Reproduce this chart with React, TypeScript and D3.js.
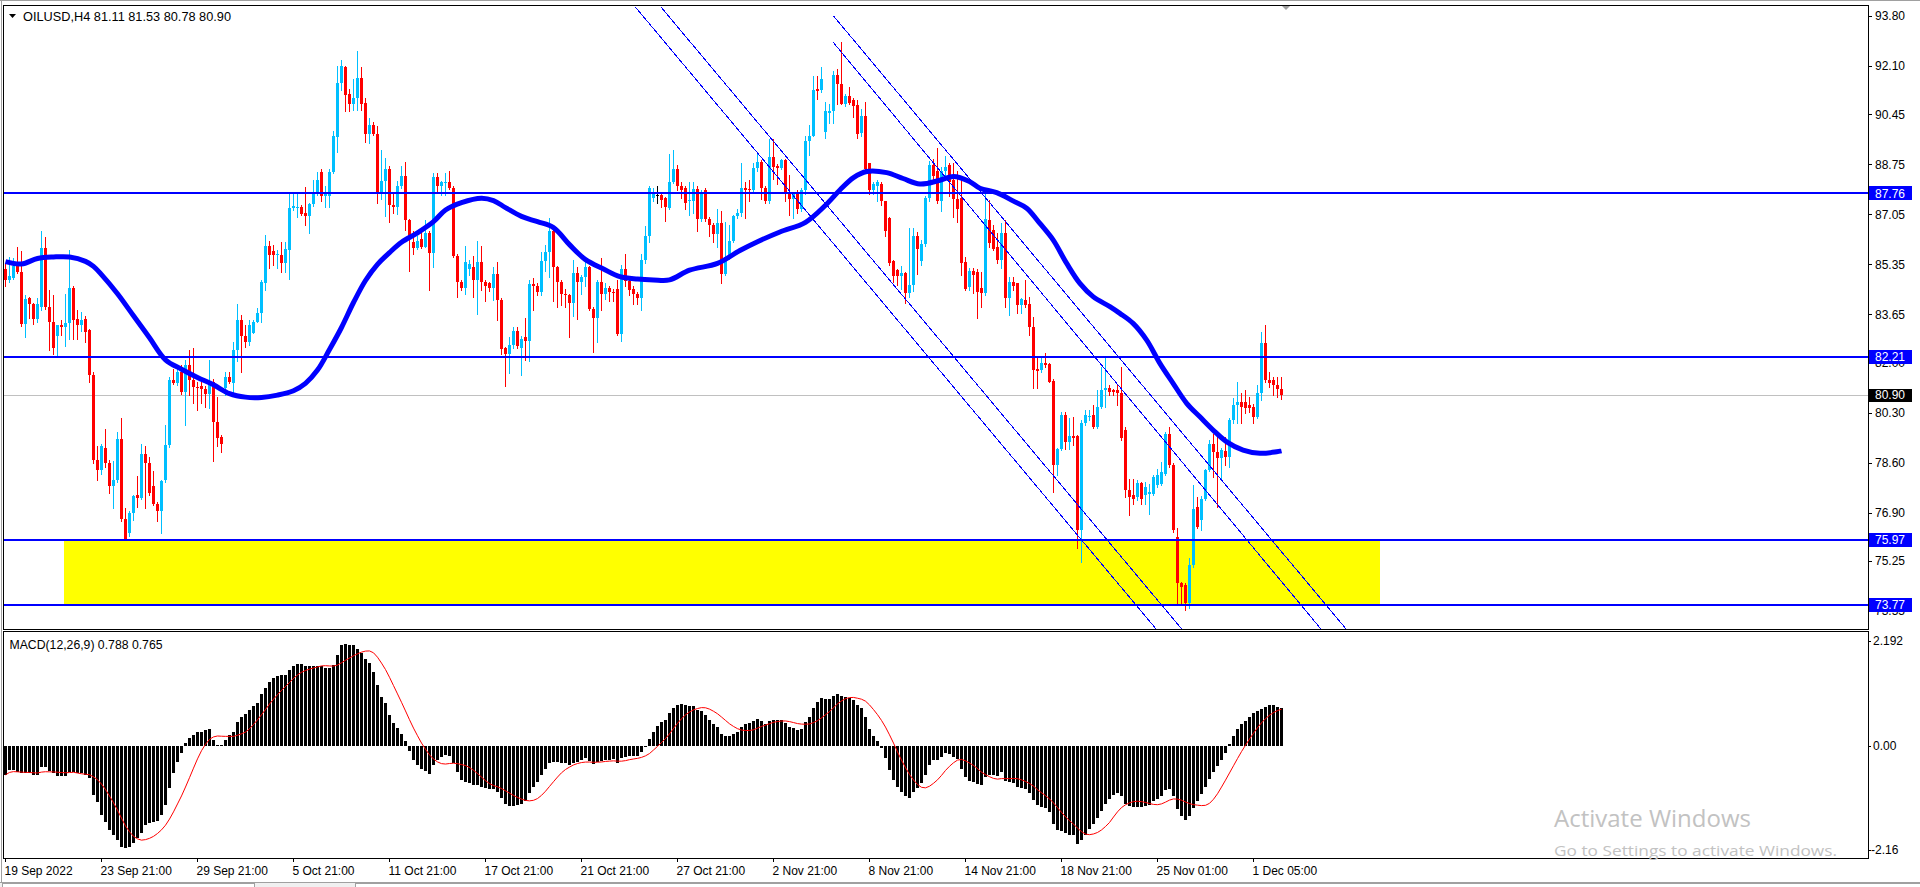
import React from 'react';
import * as d3 from 'd3';

// ---------- DATA ----------
const OPEN = [
  85.20,84.80,84.90,85.40,85.10,83.33,84.20,84.00,83.48,83.90,
  85.90,83.90,83.40,82.90,83.30,83.20,83.35,84.55,83.50,83.30,
  83.50,83.10,81.60,78.70,78.35,79.10,78.60,77.80,78.00,79.40,
  76.67,76.20,76.90,77.50,77.40,78.90,78.58,77.80,77.20,76.95,
  78.00,79.20,81.40,81.30,81.70,81.00,81.92,81.40,81.18,81.20,
  81.10,80.95,81.35,80.00,79.48,81.13,81.53,81.30,82.45,83.45,
  82.90,82.70,83.00,83.40,83.70,84.70,85.97,85.80,85.67,85.67,
  85.40,85.84,87.25,87.27,87.30,87.10,87.00,87.40,87.80,88.50,
  87.69,87.69,88.48,89.67,91.53,92.05,91.15,90.80,91.00,91.69,
  90.85,89.80,90.10,89.78,87.75,88.20,88.60,87.37,87.30,88.00,
  88.35,86.85,86.10,85.90,86.20,85.95,86.40,85.74,88.33,88.00,
  88.10,88.14,87.95,85.64,84.74,84.55,85.20,85.25,84.80,85.44,
  84.74,84.70,84.55,85.02,84.13,82.50,82.30,82.62,83.07,82.50,
  82.87,82.75,84.67,84.61,84.42,85.47,85.77,86.47,85.25,84.74,
  84.35,84.29,84.03,85.06,84.74,84.93,85.25,83.84,83.52,84.74,
  84.35,84.55,84.42,84.50,82.98,85.19,84.77,84.50,84.35,84.20,
  85.51,86.32,87.62,87.71,87.71,87.60,87.27,88.14,88.60,88.00,
  87.95,87.49,87.49,87.90,86.90,87.88,86.90,86.70,86.38,86.74,
  85.02,85.60,86.15,86.99,87.08,87.95,87.90,87.88,88.64,88.83,
  87.95,87.49,88.99,88.70,88.64,88.90,87.82,87.56,87.82,87.23,
  87.88,89.55,89.73,91.30,91.27,89.84,90.50,90.55,91.79,91.47,
  90.81,91.08,90.94,90.78,89.81,90.38,88.80,87.88,88.01,88.08,
  87.49,86.91,85.47,85.17,84.95,85.04,84.37,84.63,86.32,85.47,
  86.03,87.62,88.73,88.53,87.49,88.53,88.73,88.21,87.56,87.60,
  85.44,84.59,85.13,85.10,84.56,84.36,86.86,86.52,85.95,85.48,
  86.40,84.19,84.76,84.70,83.96,84.15,83.99,83.23,81.80,81.75,
  82.00,81.96,81.39,78.52,79.08,80.22,79.31,79.50,79.50,76.30,
  79.94,80.16,80.22,79.82,80.50,81.07,81.13,81.07,81.07,80.96,
  79.71,77.67,77.50,77.44,77.90,77.50,77.55,77.55,77.84,77.89,
  78.23,79.59,78.52,76.08,74.49,74.44,73.81,75.11,77.10,76.65,
  77.38,78.35,79.25,78.97,78.75,79.00,78.78,80.05,80.56,80.68,
  80.67,80.56,80.50,80.16,80.96,82.66,81.41,81.41,81.24,81.11,
];
const HIGH = [
  85.35,85.60,85.55,85.95,85.80,84.30,84.25,84.05,84.20,86.47,
  86.28,84.48,84.30,83.30,83.46,84.35,85.83,84.60,83.78,83.74,
  83.60,83.15,81.70,79.16,79.25,79.74,78.70,78.65,79.64,80.13,
  77.05,76.95,77.50,78.14,79.23,79.17,78.80,78.33,77.25,78.00,
  79.87,81.53,81.79,81.92,81.92,82.11,82.43,82.50,81.34,81.34,
  81.22,82.08,81.45,80.83,79.55,81.70,81.70,82.70,84.00,83.63,
  83.28,83.45,83.45,83.88,84.82,86.35,86.15,86.01,85.84,86.12,
  86.12,87.77,87.77,87.77,87.37,87.99,87.45,88.22,88.50,88.60,
  88.00,88.60,89.89,92.10,92.30,92.10,91.30,91.66,92.62,92.05,
  91.00,90.34,90.20,90.05,89.25,88.97,88.70,87.80,88.20,88.69,
  88.84,86.90,86.47,86.30,86.40,86.85,86.50,88.46,88.46,88.20,
  88.46,88.52,88.00,85.70,84.80,85.96,85.50,85.64,86.15,85.96,
  84.80,84.75,85.25,85.44,84.20,82.55,82.88,83.20,83.20,82.90,
  83.52,84.80,84.87,84.70,85.77,86.02,86.92,86.66,85.30,84.80,
  84.50,84.35,85.50,85.25,85.00,85.50,85.30,83.90,84.80,85.57,
  84.70,84.60,84.50,84.80,85.32,85.70,84.90,84.60,84.40,85.70,
  86.66,88.01,87.95,88.01,87.75,87.65,89.12,89.25,88.73,88.14,
  88.00,88.14,88.14,88.00,87.88,87.95,86.97,86.75,87.23,87.17,
  86.78,86.70,87.04,87.23,88.80,88.14,88.21,88.80,89.12,88.90,
  88.00,89.60,89.60,88.75,88.93,88.95,88.40,87.82,87.88,87.95,
  89.71,90.10,91.77,91.77,92.05,90.88,90.80,91.92,92.00,92.90,
  91.15,91.40,91.00,90.94,90.62,90.88,88.80,88.14,88.21,88.14,
  87.50,86.95,85.50,85.20,85.28,85.10,86.58,86.58,86.45,86.19,
  87.69,88.86,88.93,89.32,88.66,89.05,88.80,88.80,88.53,88.33,
  85.60,85.21,85.21,85.20,85.10,87.77,87.54,86.68,86.40,86.77,
  86.86,84.93,84.93,84.72,84.20,84.82,84.25,83.56,82.21,82.21,
  82.34,82.00,81.45,79.10,80.33,80.33,80.11,80.16,79.55,80.05,
  80.39,80.39,80.56,81.07,81.87,82.21,81.24,81.10,81.24,81.87,
  79.80,78.06,78.06,78.00,77.95,77.95,77.89,78.18,78.40,78.63,
  79.65,79.82,78.60,76.36,74.55,74.49,75.34,77.84,77.44,77.45,
  78.40,79.37,79.59,79.48,79.10,79.48,80.11,80.79,81.36,80.96,
  81.07,80.84,80.60,81.24,83.06,83.28,81.70,81.53,81.53,81.53,
];
const LOW = [
  84.60,84.75,84.85,85.05,83.25,82.88,83.52,83.33,83.40,83.80,
  83.84,82.43,82.30,82.18,82.95,82.56,82.82,82.82,82.82,83.07,
  82.69,81.34,78.59,78.01,78.20,78.46,77.56,77.05,77.95,76.60,
  75.98,76.10,76.66,77.10,77.35,77.05,77.50,77.15,76.60,76.20,
  77.95,79.15,81.27,81.25,80.95,79.87,80.89,80.64,80.38,80.64,
  80.51,80.45,78.65,79.16,78.95,80.90,81.30,80.90,82.05,81.70,
  82.55,82.60,83.00,83.40,83.40,84.48,85.21,85.33,85.21,85.10,
  85.10,84.85,87.20,86.97,87.03,86.69,86.40,87.35,87.70,87.50,
  87.30,87.30,88.46,89.16,91.28,90.57,90.57,90.60,90.60,90.60,
  89.52,89.48,89.74,87.43,87.56,86.98,86.79,87.10,87.05,87.95,
  86.53,85.12,85.70,85.88,85.90,85.93,84.48,85.25,87.80,87.70,
  87.70,87.90,85.60,84.23,84.48,84.35,85.00,84.23,83.65,84.48,
  84.10,84.45,84.13,83.46,82.30,81.20,81.66,82.50,82.50,81.60,
  82.10,82.05,83.78,84.30,84.30,85.12,84.93,84.10,83.90,83.97,
  83.90,82.88,83.60,83.50,84.35,84.60,83.78,82.37,82.69,83.78,
  84.16,84.10,84.10,82.94,82.75,84.60,84.30,84.00,84.00,83.78,
  85.40,86.10,87.49,87.43,87.30,86.84,87.23,88.10,87.88,87.62,
  87.23,87.04,87.10,86.50,86.84,86.84,86.32,86.12,85.93,84.73,
  85.00,85.53,86.10,86.91,87.00,86.91,87.49,87.79,88.53,87.56,
  87.43,87.45,88.27,88.08,88.60,87.49,87.04,86.91,87.10,87.17,
  87.75,89.06,89.70,90.98,91.20,89.64,90.16,90.16,90.80,90.80,
  90.75,90.81,90.36,89.64,89.71,88.53,87.75,87.75,87.49,87.36,
  86.32,85.34,84.76,84.63,84.50,84.04,84.24,84.43,85.02,85.34,
  85.99,87.49,88.21,87.43,87.17,88.27,87.69,86.97,86.78,85.00,
  84.47,84.47,84.36,83.51,83.91,84.30,85.95,85.84,85.38,85.21,
  83.91,83.62,84.47,83.68,83.68,83.91,82.94,81.13,81.13,81.70,
  81.87,81.33,77.61,78.18,79.03,79.08,79.08,79.20,75.68,75.23,
  79.88,80.05,79.77,79.77,80.45,80.50,80.90,80.90,80.56,79.37,
  77.44,76.82,77.21,77.33,77.21,77.21,76.87,77.50,77.78,77.85,
  78.18,78.45,76.25,73.81,73.81,73.58,73.64,75.05,76.36,76.30,
  77.33,78.30,78.12,77.10,78.06,78.52,78.46,79.94,79.94,79.94,
  80.28,80.33,79.94,80.11,80.73,81.36,81.18,80.90,80.84,80.78,
];
const CLOSE = [
  84.80,84.95,85.30,85.10,83.33,84.16,84.00,83.48,84.00,85.90,
  83.90,83.40,82.50,83.30,83.20,83.35,84.55,83.45,83.30,83.45,
  83.05,81.60,78.70,78.35,79.16,78.60,77.80,78.00,79.40,76.67,
  76.00,76.90,77.46,77.40,78.90,78.58,77.56,77.20,76.95,77.97,
  79.20,81.40,81.30,81.70,81.00,81.92,81.40,81.18,81.15,81.10,
  80.95,81.35,80.00,79.45,79.25,81.53,81.35,82.43,83.45,82.90,
  82.70,83.28,83.40,83.70,84.76,85.97,85.67,85.67,85.70,85.40,
  85.86,87.25,87.35,87.30,87.06,87.00,87.40,87.80,88.23,87.69,
  87.75,88.48,89.71,91.53,92.10,91.12,90.80,91.00,91.69,90.80,
  89.80,90.10,89.78,87.75,88.20,88.60,87.37,87.30,88.00,88.35,
  86.85,86.20,85.90,86.15,85.95,86.40,85.74,88.33,88.00,88.14,
  88.14,87.95,85.64,84.74,84.55,85.44,85.35,84.80,85.44,84.74,
  84.60,84.55,85.02,84.13,82.46,82.30,82.62,83.07,82.56,82.80,
  82.75,84.67,84.61,84.42,85.47,85.77,86.47,85.25,84.74,84.35,
  84.29,84.03,85.06,84.74,84.93,85.25,83.84,83.52,84.74,84.35,
  84.55,84.42,84.36,82.98,85.19,84.77,84.48,84.35,84.20,85.51,
  86.32,87.95,87.75,87.71,87.53,87.30,88.14,88.60,88.00,87.88,
  87.43,87.55,87.90,86.90,87.75,86.90,86.70,86.38,86.74,85.02,
  85.60,86.15,86.99,87.08,87.95,87.88,87.88,88.64,88.83,87.95,
  87.49,88.99,88.67,88.64,88.90,87.82,87.56,87.78,87.23,87.88,
  89.55,89.73,91.27,91.25,91.66,90.55,90.55,91.79,91.47,90.81,
  91.08,90.85,90.75,89.77,90.38,88.60,87.88,88.08,88.14,87.49,
  86.48,85.41,84.95,84.95,85.04,84.37,84.63,86.32,85.86,86.03,
  87.62,88.73,88.34,87.49,88.53,88.66,88.14,87.56,87.23,85.38,
  84.50,85.13,84.99,84.42,84.38,86.88,86.09,85.86,85.48,86.40,
  84.19,84.76,84.61,83.96,84.16,83.96,83.23,81.77,81.73,82.00,
  81.92,81.36,78.52,79.08,80.22,79.31,79.50,79.45,76.30,79.94,
  80.22,80.20,79.82,80.50,81.07,81.13,81.00,81.00,80.96,79.43,
  77.67,77.44,77.38,77.90,77.38,77.78,77.61,78.12,78.18,78.29,
  79.59,78.52,76.30,74.49,74.38,73.81,75.11,77.04,76.42,77.38,
  78.35,79.25,78.97,78.75,79.03,78.78,80.05,80.56,80.68,80.50,
  80.45,80.45,80.16,80.96,82.66,81.41,81.30,81.24,81.09,80.90,
];

// MACD main line (histogram), one value per bar
const MACD = [
  -0.60,-0.50,-0.50,-0.55,-0.57,-0.57,-0.57,-0.60,-0.60,-0.43,
  -0.43,-0.52,-0.57,-0.62,-0.63,-0.62,-0.55,-0.55,-0.57,-0.57,
  -0.60,-0.67,-1.02,-1.16,-1.44,-1.58,-1.75,-1.85,-1.96,-2.10,
  -2.12,-2.10,-2.03,-1.92,-1.82,-1.65,-1.61,-1.59,-1.56,-1.44,
  -1.23,-0.88,-0.57,-0.33,-0.15,0.06,0.16,0.23,0.30,0.30,
  0.33,0.35,0.13,0.02,0.02,0.13,0.23,0.30,0.51,0.61,
  0.66,0.75,0.83,0.89,1.08,1.20,1.34,1.41,1.46,1.47,
  1.48,1.58,1.67,1.71,1.71,1.67,1.67,1.67,1.67,1.67,
  1.62,1.62,1.69,1.90,2.10,2.13,2.10,2.10,2.03,1.93,
  1.82,1.72,1.55,1.27,1.03,0.89,0.65,0.47,0.37,0.25,
  0.10,-0.10,-0.30,-0.40,-0.48,-0.52,-0.58,-0.40,-0.30,-0.22,
  -0.18,-0.20,-0.35,-0.55,-0.70,-0.75,-0.78,-0.82,-0.82,-0.85,
  -0.88,-0.90,-0.90,-0.95,-1.08,-1.20,-1.25,-1.25,-1.22,-1.20,
  -1.15,-0.98,-0.85,-0.75,-0.60,-0.48,-0.35,-0.33,-0.33,-0.35,
  -0.36,-0.40,-0.35,-0.33,-0.30,-0.26,-0.32,-0.38,-0.33,-0.32,
  -0.30,-0.29,-0.28,-0.36,-0.26,-0.22,-0.20,-0.20,-0.20,-0.12,
  0.00,0.15,0.30,0.42,0.50,0.55,0.68,0.80,0.85,0.87,
  0.86,0.84,0.83,0.75,0.72,0.65,0.55,0.45,0.40,0.25,
  0.20,0.20,0.25,0.30,0.40,0.45,0.47,0.52,0.56,0.52,
  0.45,0.52,0.55,0.55,0.55,0.48,0.40,0.38,0.33,0.35,
  0.50,0.60,0.80,0.92,1.00,0.98,0.97,1.05,1.08,1.05,
  1.03,1.00,0.95,0.85,0.80,0.60,0.35,0.20,0.10,-0.05,
  -0.25,-0.50,-0.70,-0.85,-0.95,-1.05,-1.08,-0.95,-0.88,-0.78,
  -0.60,-0.40,-0.30,-0.30,-0.22,-0.15,-0.17,-0.22,-0.28,-0.48,
  -0.65,-0.72,-0.75,-0.80,-0.82,-0.65,-0.60,-0.60,-0.62,-0.55,
  -0.72,-0.75,-0.78,-0.85,-0.87,-0.90,-0.98,-1.12,-1.22,-1.28,
  -1.30,-1.38,-1.62,-1.75,-1.78,-1.82,-1.85,-1.85,-2.05,-1.95,
  -1.85,-1.72,-1.62,-1.50,-1.35,-1.20,-1.10,-1.02,-0.98,-1.05,
  -1.20,-1.25,-1.28,-1.27,-1.28,-1.25,-1.22,-1.15,-1.10,-1.05,
  -0.92,-0.90,-1.05,-1.32,-1.45,-1.55,-1.45,-1.30,-1.15,-1.00,
  -0.85,-0.68,-0.55,-0.42,-0.30,-0.15,0.05,0.20,0.35,0.45,
  0.52,0.60,0.68,0.72,0.78,0.82,0.85,0.85,0.82,0.788,
];
const SIGNAL_PERIOD = 9;

// Moving average (bar index, value)
const MA_BARS = [0,4,8,12,16,20,22,24,28,32,36,40,44,48,52,56,60,64,68,72,75,78,81,84,87,90,93,96,99,103,107,110,114,119,122,125,129,133,137,141,145,149.5,153.6,158,162,166,171,178,183.6,188,193.6,200,205,208.6,212,215.3,220.3,224.4,228.6,233.6,237,241,243.6,247.8,252,255.3,258.6,261.9,265.3,268.6,271.9,276.1,278.6,281.9,285.3,288.6,291.9,295.3,298.6,301.9,305.3,309.4,313.6,317.8,319];
const MA_VALUES = [85.44,85.36,85.55,85.6,85.6,85.45,85.28,85.0,84.35,83.6,82.85,82.1,81.78,81.5,81.25,80.95,80.83,80.82,80.9,81.05,81.3,81.75,82.45,83.2,84.05,84.8,85.35,85.75,86.1,86.42,86.8,87.2,87.45,87.6,87.52,87.28,86.98,86.8,86.6,86.02,85.51,85.19,84.93,84.85,84.82,84.82,85.15,85.38,85.82,86.12,86.45,86.78,87.36,87.88,88.3,88.51,88.47,88.27,88.08,88.21,88.34,88.17,87.94,87.79,87.5,87.26,86.74,86.18,85.38,84.70,84.25,83.91,83.68,83.34,82.77,81.98,81.30,80.62,80.16,79.71,79.31,79.03,78.92,78.97,79.0];

const PRICE_TICKS = [93.80, 92.10, 90.45, 88.75, 87.05, 85.35, 83.65, 82.00, 80.30, 78.60, 76.90, 75.25, 73.55];
const MACD_TICKS = [2.192, 0, -2.16];
const MACD_TICK_LABELS = ['2.192', '0.00', '-2.16'];
const TIME_BARS = [0, 24, 48, 72, 96, 120, 144, 168, 192, 216, 240, 264, 288, 312];
const TIME_LABELS = ['19 Sep 2022', '23 Sep 21:00', '29 Sep 21:00', '5 Oct 21:00', '11 Oct 21:00', '17 Oct 21:00', '21 Oct 21:00', '27 Oct 21:00', '2 Nov 21:00', '8 Nov 21:00', '14 Nov 21:00', '18 Nov 21:00', '25 Nov 01:00', '1 Dec 05:00'];

const LEVELS = [87.76, 82.21, 75.97, 73.77];
const ZONE_PRICES = [75.97, 73.77];
const ZONE_BARS = [14.6, 343.6];
const BID = 80.90;
// trend / channel lines: [bar1, price1, bar2, price2]
const TRENDLINES = [
  [157.5, 94.10, 287.9, 72.90],
  [163.9, 94.10, 294.3, 72.90],
  [206.95, 93.81, 335.4, 72.90],
  [206.95, 92.90, 329.1, 72.90],
];
const HEADER = 'OILUSD,H4  81.11 81.53 80.78 80.90';
const MACD_HEADER = 'MACD(12,26,9) 0.788 0.765';

// ---------- LAYOUT ----------
const FONT = "'Liberation Sans', Arial, sans-serif";
const PL = 4, PR = 1868;
const PT = 6, PB = 629;
const MT = 632, MB = 858;

export default function App() {
  const x = d3.scaleLinear().domain([0, 1]).range([5.5, 9.5]);
  const y = d3.scaleLinear().domain([72.94, 94.14]).range([PB, PT]);
  const my = d3.scaleLinear().domain([-2.16, 2.192]).range([849.7, 640.8]);

  const signal = MACD.map((_, i) => {
    const s = Math.max(0, i - SIGNAL_PERIOD + 1);
    return d3.mean(MACD.slice(s, i + 1)) as number;
  });

  const maPts = MA_BARS.map((b, i) => [b, MA_VALUES[i]] as [number, number]);
  const maPath = d3.line<[number, number]>().x(d => x(d[0])).y(d => y(d[1])).curve(d3.curveCatmullRom.alpha(0.5))(maPts) || '';
  const sigPath = d3.line<number>().x((_, i) => x(i)).y(d => my(d))(signal) || '';

  const candles = OPEN.map((o, i) => {
    const c = CLOSE[i], h = HIGH[i], l = LOW[i];
    const col = c > o ? '#00BFFF' : c < o ? '#FF0000' : '#000000';
    const top = Math.round(y(Math.max(o, c)));
    const bot = Math.round(y(Math.min(o, c)));
    const cx = x(i);
    return (
      <g key={i}>
        <line x1={cx} x2={cx} y1={Math.round(y(h))} y2={Math.round(y(l)) + 1} stroke={col} strokeWidth={1} />
        <rect x={cx - 1.5} y={top} width={3} height={c !== o ? Math.max(1, bot - top) : 1} fill={col} />
      </g>
    );
  });

  const bars = MACD.map((v, i) => {
    const y0 = my(0), y1 = my(v);
    return <rect key={i} x={x(i) - 1.5} y={Math.round(Math.min(y0, y1))} width={3} height={Math.max(1, Math.round(Math.abs(y1 - y0)))} fill="#000" />;
  });

  const axisText = { fontFamily: FONT, fontSize: 12, fill: '#000' } as const;

  return (
    <div style={{ position: 'absolute', left: 0, top: 0 }}>
      <svg width={1920} height={887} style={{ display: 'block', background: '#fff' }}>
        <defs>
          <clipPath id="pclip"><rect x={PL} y={PT} width={PR - PL} height={PB - PT} /></clipPath>
          <clipPath id="mclip"><rect x={PL} y={MT} width={PR - PL} height={MB - MT} /></clipPath>
        </defs>
        {/* window chrome */}
        <rect x={0} y={0} width={1920} height={887} fill="#fff" />
        <line x1={0} x2={1920} y1={0.5} y2={0.5} stroke="#a0a0a0" />
        <line x1={1.5} x2={1.5} y1={0} y2={883} stroke="#a0a0a0" />

        {/* price pane */}
        <g clipPath="url(#pclip)" shapeRendering="crispEdges">
          <rect x={x(ZONE_BARS[0])} y={y(ZONE_PRICES[0])} width={x(ZONE_BARS[1]) - x(ZONE_BARS[0])} height={y(ZONE_PRICES[1]) - y(ZONE_PRICES[0])} fill="#FFFF00" />
          <line x1={PL} x2={PR} y1={Math.round(y(BID)) + 0.5} y2={Math.round(y(BID)) + 0.5} stroke="#C0C0C0" />
          {candles}
        </g>
        <g clipPath="url(#pclip)">
          <path d={maPath} fill="none" stroke="#0000FF" strokeWidth={5} strokeLinejoin="round" />
        </g>
        <g clipPath="url(#pclip)" shapeRendering="crispEdges">
          {TRENDLINES.map((t, i) => (
            <line key={i} x1={x(t[0])} y1={y(t[1])} x2={x(t[2])} y2={y(t[3])} stroke="#0000FF" strokeWidth={1} />
          ))}
          {LEVELS.map((lv, i) => (
            <line key={i} x1={PL} x2={PR} y1={Math.round(y(lv))} y2={Math.round(y(lv))} stroke="#0000FF" strokeWidth={2} />
          ))}
        </g>
        <rect x={PL - 0.5} y={PT - 0.5} width={PR - PL + 1} height={PB - PT + 1} fill="none" stroke="#000" shapeRendering="crispEdges" />
        <polygon points="1282,6 1290,6 1286,10" fill="#a0a0a0" />

        {/* header */}
        <polygon points="9,14 16,14 12.5,18" fill="#000" />
        <text x={23} y={20.5} style={axisText} textLength={208} lengthAdjust="spacingAndGlyphs">{HEADER}</text>

        {/* price axis */}
        {PRICE_TICKS.map((t, i) => (
          <g key={i}>
            <line x1={PR} x2={PR + 4} y1={Math.round(y(t)) + 0.5} y2={Math.round(y(t)) + 0.5} stroke="#000" />
            <text x={1875} y={y(t) + 4.3} style={axisText}>{t.toFixed(2)}</text>
          </g>
        ))}
        {LEVELS.map((lv, i) => (
          <g key={i}>
            <rect x={1869} y={Math.round(y(lv)) - 7} width={43} height={14} fill="#0000FF" />
            <text x={1875} y={y(lv) + 4.3} style={{ ...axisText, fill: '#fff' }}>{lv.toFixed(2)}</text>
          </g>
        ))}
        <rect x={1869} y={Math.round(y(BID)) - 6} width={43} height={13} fill="#000" />
        <text x={1875} y={y(BID) + 4.3} style={{ ...axisText, fill: '#fff' }}>{BID.toFixed(2)}</text>

        {/* MACD pane */}
        <g clipPath="url(#mclip)" shapeRendering="crispEdges">{bars}</g>
        <g clipPath="url(#mclip)">
          <path d={sigPath} fill="none" stroke="#FF0000" strokeWidth={1} />
        </g>
        <rect x={PL - 0.5} y={MT - 0.5} width={PR - PL + 1} height={MB - MT + 1} fill="none" stroke="#000" shapeRendering="crispEdges" />
        <text x={9.5} y={648.5} style={axisText} textLength={153} lengthAdjust="spacingAndGlyphs">{MACD_HEADER}</text>
        {MACD_TICKS.map((t, i) => (
          <g key={i}>
            <line x1={PR} x2={PR + 3} y1={Math.round(my(t)) + 0.5} y2={Math.round(my(t)) + 0.5} stroke="#000" />
            <text x={t < 0 ? 1871 : 1873} y={my(t) + 4.3} style={axisText}>{MACD_TICK_LABELS[i]}</text>
          </g>
        ))}

        {/* time axis */}
        {TIME_BARS.map((b, i) => (
          <g key={i}>
            <line x1={Math.floor(x(b)) + 0.5} x2={Math.floor(x(b)) + 0.5} y1={MB} y2={MB + 4} stroke="#000" />
            <text x={x(b) - 1} y={875} style={axisText}>{TIME_LABELS[i]}</text>
          </g>
        ))}

        {/* bottom tabs */}
        <rect x={0} y={882} width={1920} height={5} fill="#f0f0f0" />
        <line x1={0} x2={1920} y1={882.5} y2={882.5} stroke="#a0a0a0" />
        <rect x={2.5} y={883.5} width={252} height={6} fill="#fff" stroke="#a0a0a0" />
        <rect x={355.5} y={883.5} width={1570} height={6} fill="#fff" stroke="#a0a0a0" />

        {/* OS watermark */}
        <text x={1554} y={827} style={{ fontFamily: "'Open Sans', 'Noto Sans', sans-serif", fontSize: 23, fill: '#c2c2c2' }} textLength={197} lengthAdjust="spacingAndGlyphs">Activate Windows</text>
        <text x={1554} y={856} style={{ fontFamily: "'Open Sans', 'Noto Sans', sans-serif", fontSize: 15, fill: '#c2c2c2' }} textLength={283} lengthAdjust="spacingAndGlyphs">Go to Settings to activate Windows.</text>
      </svg>
    </div>
  );
}
